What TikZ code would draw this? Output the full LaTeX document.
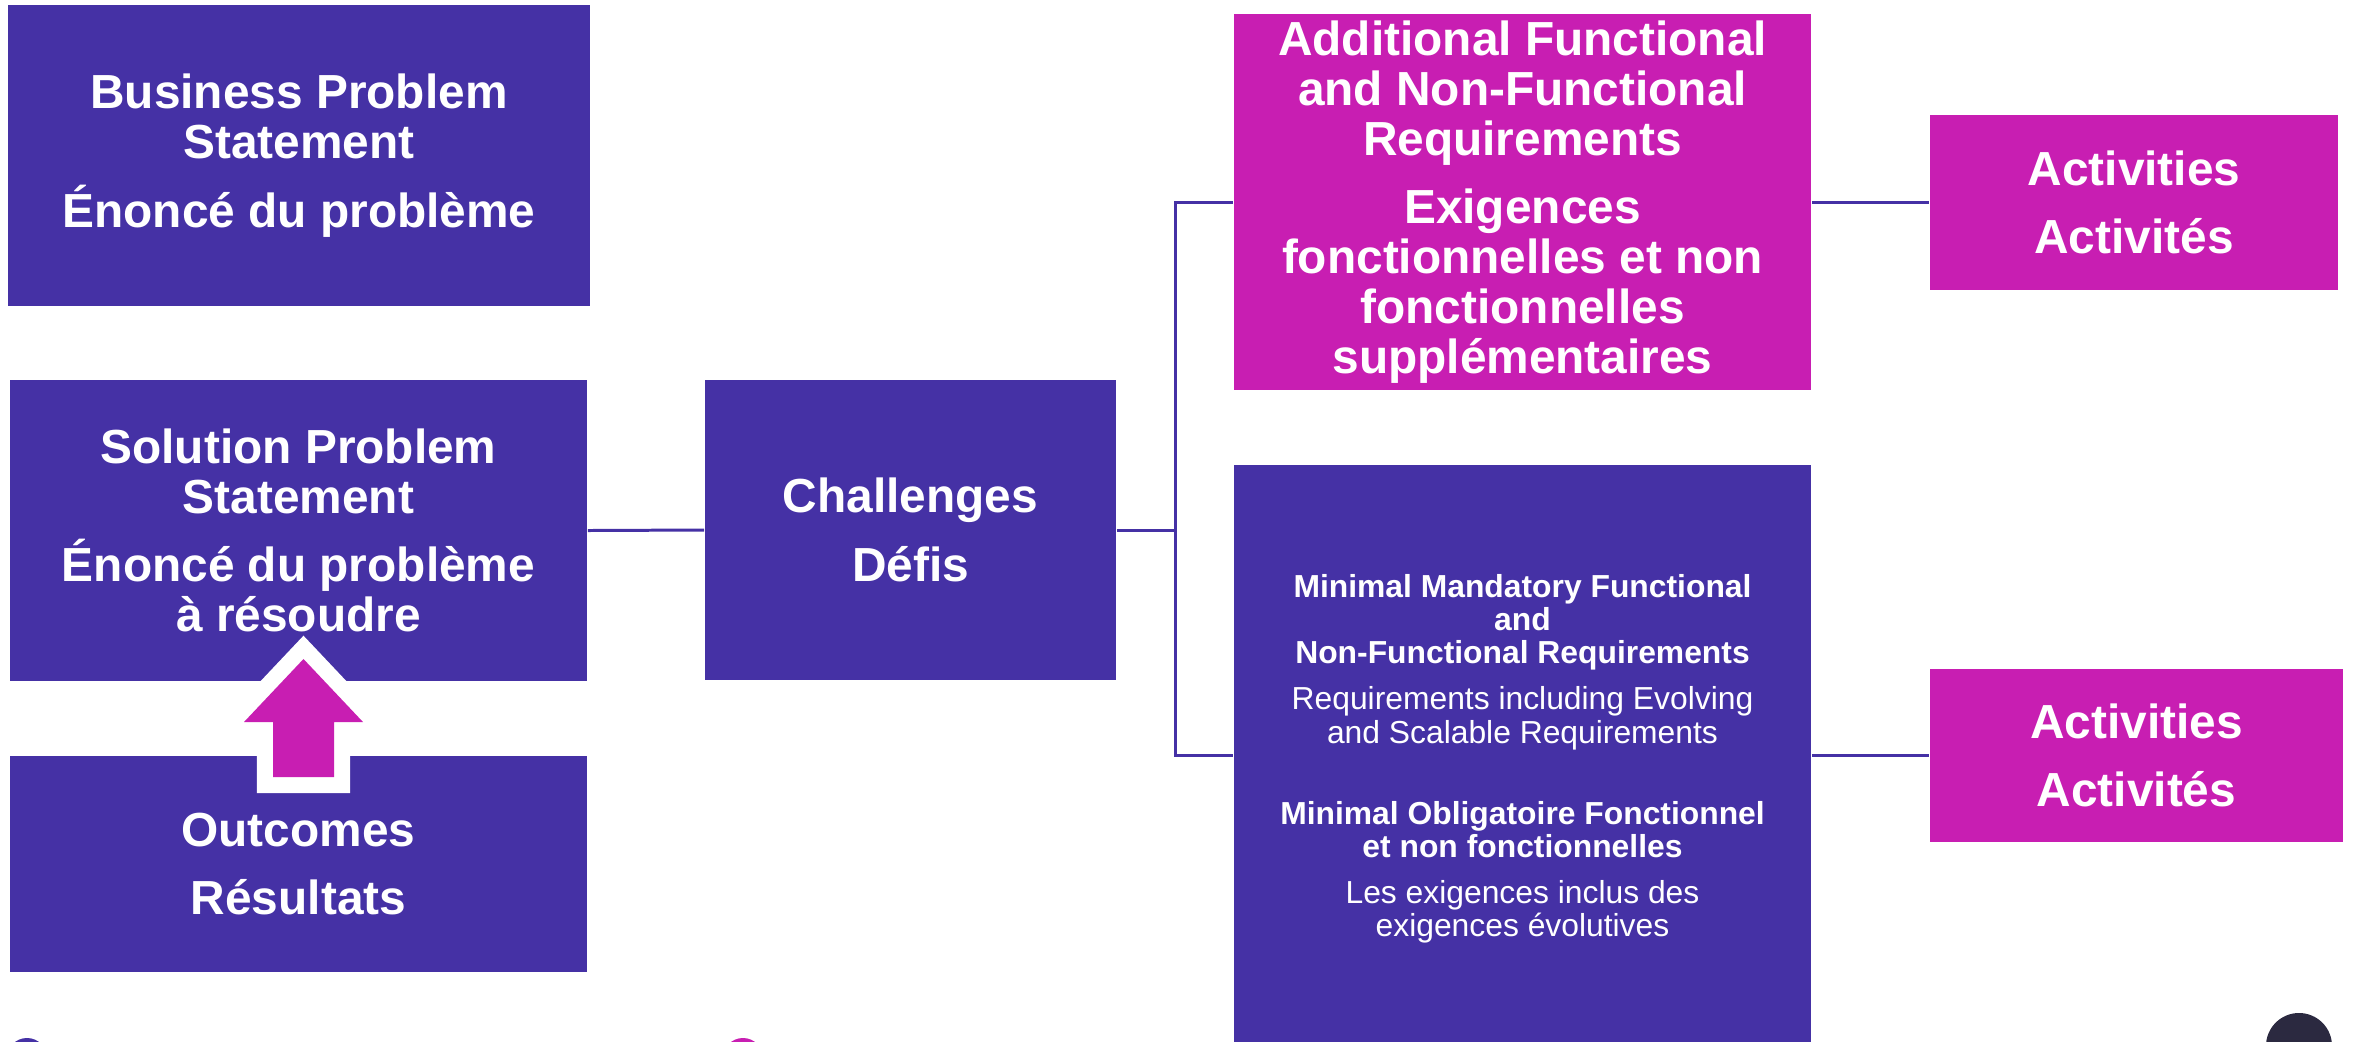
\documentclass[tikz,border=0pt]{standalone}
\usepackage{fontspec}
\setmainfont{Liberation Sans}
\usepackage{tikz}

\definecolor{ppurple}{HTML}{4531A5}
\definecolor{pmagenta}{HTML}{C81EB2}
\definecolor{pdark}{HTML}{2B2940}

\begin{document}
\begin{tikzpicture}[x=0.01cm, y=-0.01cm,
        box/.style={rectangle, inner sep=0pt, text=white, align=center,
          font=\bfseries\fontsize{13.6pt}{14.2pt}\selectfont},
        pbox/.style={box, fill=ppurple},
        mbox/.style={box, fill=pmagenta},
        lnk/.style={draw=ppurple, line width=0.85pt},
        ]
      \useasboundingbox (0,0) rectangle (2353,1041);

      \node[pbox, minimum width=5.82cm, minimum height=3.01cm] (bp) at (299, 155.5)
        {Business Problem\\Statement\\[5.3pt]Énoncé du problème};
      \node[pbox, minimum width=5.77cm, minimum height=3.01cm] (sp) at (298.5, 530.5)
        {Solution Problem\\Statement\\[5.3pt]Énoncé du problème\\à résoudre};
      \node[pbox, minimum width=5.77cm, minimum height=2.16cm] (oc) at (298.5, 864)
        {Outcomes\\[5.3pt]Résultats};

      \node[pbox, minimum width=4.11cm, minimum height=3.00cm] (ch) at (910.5, 530)
        {Challenges\\[5.3pt]Défis};

      \node[mbox, minimum width=5.77cm, minimum height=3.76cm] (ad) at (1522.5, 202)
        {Additional Functional\\and Non-Functional\\Requirements\\[5.3pt]Exigences\\fonctionnelles et non\\fonctionnelles\\supplémentaires};
      \node[pbox, minimum width=5.77cm, minimum height=6.15cm] (mi) at (1522.5, 772.5) {};
      \node[anchor=north, inner sep=0pt, text=white, align=center,
            font=\fontsize{9.05pt}{9.4pt}\selectfont] (mitxt) at (1522.5, 574)
        {\textbf{Minimal Mandatory Functional}\\\textbf{and}\\\textbf{Non-Functional Requirements}\\[3.7pt]
         Requirements including Evolving\\and Scalable Requirements\\[13.7pt]
         \textbf{Minimal Obligatoire Fonctionnel}\\\textbf{et non fonctionnelles}\\[3.7pt]
         Les exigences inclus des\\exigences évolutives};

      \node[mbox, minimum width=4.08cm, minimum height=1.75cm] (ac1) at (2134, 202.5)
        {Activities\\[5.3pt]Activités};
      \node[mbox, minimum width=4.13cm, minimum height=1.73cm] (ac2) at (2136.5, 755.5)
        {Activities\\[5.3pt]Activités};

      % connectors
      \draw[lnk] (sp.east) -- (ch.west);
      \draw[lnk] (ch.east) -- ++(59,0) coordinate (jn);
      \draw[lnk] (ad.west) -| (jn) |- (mi.west |- ac2.west);
      \draw[lnk] (ad.east |- ac1.west) -- (ac1.west);
      \draw[lnk] (mi.east |- ac2.west) -- (ac2.west);

      % up arrow from outcomes
      \coordinate (tip) at (303.5, 659);
      \draw[white, line width=0.32cm, line join=miter]
        (tip) -- (244,722) -- (273,722) -- (273,777) -- (334,777) -- (334,722) -- (363,722) -- cycle;
      \fill[pmagenta]
        (tip) -- (244,722) -- (273,722) -- (273,777) -- (334,777) -- (334,722) -- (363,722) -- cycle;

      % cut-off marks at the bottom edge
      \fill[ppurple] (27,1058) circle (0.2cm);
      \fill[pmagenta] (743,1058) circle (0.2cm);
      \fill[pdark] (2299,1046) circle (0.33cm);
    \end{tikzpicture}
\end{document}
